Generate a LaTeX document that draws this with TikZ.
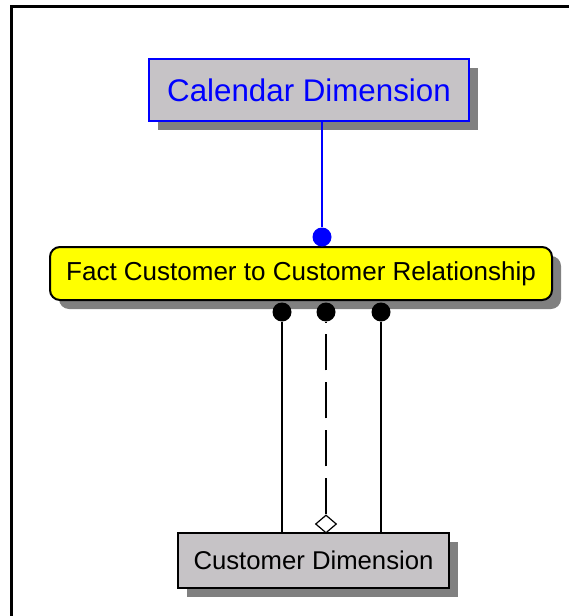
\documentclass[tikz,border=0pt]{standalone}
\usepackage{fontspec}
\setmainfont{Liberation Sans}
\usepackage{xcolor}
\usetikzlibrary{shapes,arrows,positioning,calc,shadows}

\definecolor{boxgray}{RGB}{198,195,198}
\definecolor{erblue}{RGB}{0,0,255}
\definecolor{factyellow}{RGB}{255,255,0}

\begin{document}
\begin{tikzpicture}[x=1pt, y=-1pt]
    \tikzstyle{shade} = [drop shadow={shadow xshift=9pt, shadow yshift=-9pt, fill=black!50, opacity=1}]
    \tikzstyle{dimension} = [rectangle, draw, line width=2pt, fill=boxgray, shade, inner sep=0pt]
    \tikzstyle{fact} = [rectangle, rounded corners=10pt, draw, line width=2pt, fill=factyellow, shade, inner sep=0pt]
    \tikzstyle{dot} = [circle, fill, inner sep=0pt, minimum size=19pt]
    \tikzstyle{link} = [line width=2pt]

    \useasboundingbox (0,0) rectangle (569,616);

    % frame
    \draw[line width=3pt] (11.5,616) -- (11.5,6.5) -- (569,6.5);

    % tables
    \node[dimension, draw=erblue, text=erblue, minimum width=320pt, minimum height=62pt, font=\fontsize{31.3}{36}\selectfont] (cal) at (309,90) {Calendar Dimension};
    \node[fact, minimum width=502pt, minimum height=53pt, font=\fontsize{26}{30}\selectfont] (fct) at (301,273.5) {Fact Customer to Customer Relationship};
    \node[dimension, minimum width=271pt, minimum height=55pt, font=\fontsize{25.7}{30}\selectfont] (cust) at (313.5,560.5) {Customer Dimension};

    % relationship ends
    \node[dot, fill=erblue] (calDot) at (322,237) {};
    \node[dot] (custDot1) at (282,312) {};
    \node[dot] (custDot2) at (326,312) {};
    \node[dot] (custDot3) at (381,312) {};
    \node[diamond, draw, fill=white, line width=1.2pt, inner sep=0pt, minimum width=21pt, minimum height=18pt] (custDia) at (326,524) {};

    % relationships
    \draw[link, erblue] (calDot |- cal.south) -- (calDot);
    \draw[link] (custDot1) -- (custDot1 |- cust.north);
    \draw[link] (custDot3) -- (custDot3 |- cust.north);
    \draw[link, dash pattern=on 36pt off 12pt] (custDia.north) -- (custDot2);
\end{tikzpicture}
\end{document}
